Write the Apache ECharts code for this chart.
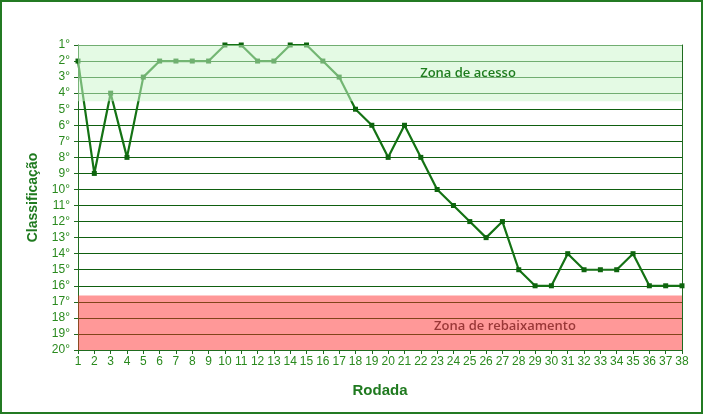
<!DOCTYPE html>
<html><head><meta charset="utf-8">
<script src="https://cdn.jsdelivr.net/npm/echarts@6/dist/echarts.min.js"></script>
<style>
html,body{margin:0;padding:0;background:#fff;}
#c{width:703px;height:414px;}
</style></head>
<body><div id="c"></div>
<script>
const rounds = Array.from({length:38},(_,i)=>i+1);
const positions = [2,9,4,8,3,2,2,2,2,1,1,2,2,1,1,2,3,5,6,8,6,8,10,11,12,13,12,15,16,16,14,15,15,15,14,16,16,16];
const yTickLabels = ['1°','2°','3°','4°','5°','6°','7°','8°','9°','10°','11°','12°','13°','14°','15°','16°','17°','18°','19°','20°'];
const accessZone = [1, 4.5];
const relegationZone = [16.6, 20];
const accessLabel = 'Zona de acesso';
const relegationLabel = 'Zona de rebaixamento';

const chart = echarts.init(document.getElementById('c'), null, {renderer:'canvas'});
const green = '#2a8a1e';
chart.setOption({
  animation:false,
  graphic:[{type:'rect',shape:{x:1,y:1,width:701,height:412},style:{fill:null,stroke:'#237a23',lineWidth:2},silent:true}],
  grid:{left:78,right:21,top:45,bottom:64},
  xAxis:{
    type:'value', min:1, max:38, interval:1,
    name:'Rodada', nameLocation:'middle', nameGap:33,
    nameTextStyle:{color:'#1f7a1f',fontWeight:'bold',fontSize:15,fontFamily:'Liberation Sans'},
    axisLine:{lineStyle:{color:'#1f6b1f',width:1}},
    axisTick:{show:true,length:4,lineStyle:{color:'#1f6b1f'}},
    axisLabel:{color:green,fontSize:12,fontFamily:'Liberation Sans',margin:6},
    splitLine:{show:false}
  },
  yAxis:[{
    type:'value', inverse:true, min:1, max:20, interval:1,
    name:'Classificação', nameLocation:'middle', nameGap:38, nameRotate:90,
    nameTextStyle:{color:'#1f7a1f',fontWeight:'bold',fontSize:14,fontFamily:'Liberation Sans'},
    axisLine:{show:true,lineStyle:{color:'#1f6b1f',width:1}},
    axisTick:{show:true,length:4,lineStyle:{color:'#1f6b1f'}},
    axisLabel:{color:green,fontSize:12,fontFamily:'Liberation Sans',margin:8,
      formatter:v=>yTickLabels[v-1]},
    splitLine:{show:true,lineStyle:{color:'#0f5f0f',width:1}}
  },{
    type:'value', inverse:true, min:1, max:20, interval:1, position:'right',
    axisLine:{show:true,lineStyle:{color:'#1f6b1f',width:1}},
    axisTick:{show:false}, axisLabel:{show:false}, splitLine:{show:false}
  }],
  series:[{
    type:'line', z:2,
    data:rounds.map((r,i)=>[r,positions[i]]),
    symbol:'rect', symbolSize:5, showAllSymbol:true,
    lineStyle:{color:'#147214',width:2.2},
    itemStyle:{color:'#0e650e'}
  },{
    type:'line', z:5, data:[], silent:true,
    markArea:{
      silent:true, z:10,
      data:[
        [{yAxis:accessZone[0],itemStyle:{color:'rgba(203,246,203,0.52)'},
          label:{show:true,position:'inside',offset:[88,0],formatter:accessLabel,color:'#1f7d1f',fontSize:13,fontWeight:600,fontFamily:'Open Sans'}},
         {yAxis:accessZone[1]}],
        [{yAxis:relegationZone[0],itemStyle:{color:'rgba(255,40,40,0.48)'},
          label:{show:true,position:'inside',offset:[125,4],formatter:relegationLabel,color:'#9a3838',fontSize:13,fontWeight:600,fontFamily:'Open Sans'}},
         {yAxis:relegationZone[1]}]
      ]
    }
  }]
});
</script></body></html>
